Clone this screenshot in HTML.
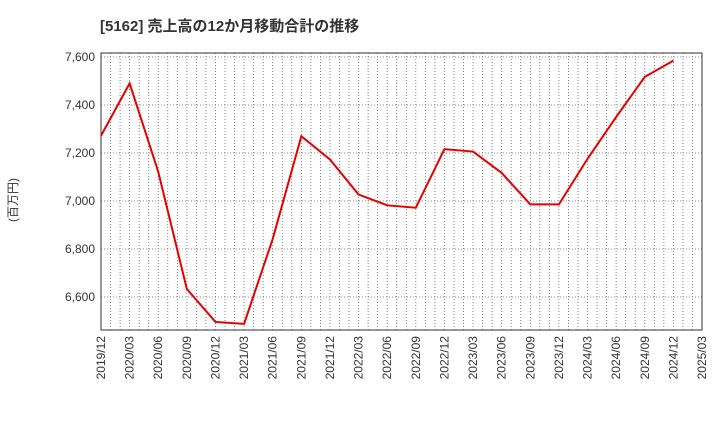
<!DOCTYPE html>
<html><head><meta charset="utf-8"><style>
body{margin:0;background:#fff;font-family:"Liberation Sans","Noto Sans CJK JP",sans-serif;}
</style></head><body>
<svg id="c" width="720" height="440" xmlns="http://www.w3.org/2000/svg">
<text x="100" y="31" font-size="15" font-weight="bold" fill="#333" font-family="Liberation Sans, Noto Sans CJK JP, sans-serif">[5162]  売上高の12か月移動合計の推移</text>
<text transform="translate(17,200) rotate(-90)" text-anchor="middle" font-size="12" fill="#333" font-family="Liberation Sans, Noto Sans CJK JP, sans-serif">(百万円)</text>
<g id="grid"></g><g id="axes"></g><g id="series"></g>
</svg>
<script>
const categories=["2019/12","2020/03","2020/06","2020/09","2020/12","2021/03","2021/06","2021/09","2021/12","2022/03","2022/06","2022/09","2022/12","2023/03","2023/06","2023/09","2023/12","2024/03","2024/06","2024/09","2024/12","2025/03"];
const values=[7272,7490,7122,6633,6496,6488,6842,7270,7173,7027,6982,6972,7216,7206,7117,6986,6986,7176,7350,7517,7585];
const yTicks=[6600,6800,7000,7200,7400,7600];
const yTickLabels=["6,600","6,800","7,000","7,200","7,400","7,600"];
const L=101,R=702,T=53,B=330;
const ns="http://www.w3.org/2000/svg";
function X(i){return L+(R-L)*i/(categories.length-1);}
function Y(v){return 345-(v-6400)*0.24;}
function mk(t,a,p){const e=document.createElementNS(ns,t);for(const k in a)e.setAttribute(k,a[k]);p.appendChild(e);return e;}
const g=document.getElementById('grid'),ax=document.getElementById('axes'),s=document.getElementById('series');
const months=(categories.length-1)*3;
for(let m=1;m<months;m++){const x=L+(R-L)*m/months;
const l=mk('line',{x1:x,x2:x,y1:T,y2:B,stroke:'#666','stroke-width':0.8,'stroke-dasharray':'1,2'},g);

}
yTicks.forEach((v,i)=>{const y=Y(v);
const l=mk('line',{x1:L,x2:R,y1:y,y2:y,stroke:'#666','stroke-width':0.8,'stroke-dasharray':'1,2'},g);


const t=mk('text',{x:L-6,y:y+4,'text-anchor':'end','font-size':12,fill:'#333'},ax);t.textContent=yTickLabels[i];

});
const fr=mk('rect',{x:L,y:T,width:R-L,height:B-T,fill:'none',stroke:'#333','stroke-width':1},ax);


categories.forEach((c,i)=>{const x=X(i);
const t=mk('text',{transform:`translate(${x+4},${B+6}) rotate(-90)`,'text-anchor':'end','font-size':12,fill:'#333'},ax);t.textContent=c;

});
const pts=values.map((v,i)=>X(i)+','+Y(v)).join(' ');
const pl=mk('polyline',{points:pts,fill:'none',stroke:'#e60000','stroke-width':2},s);


</script>
</body></html>
